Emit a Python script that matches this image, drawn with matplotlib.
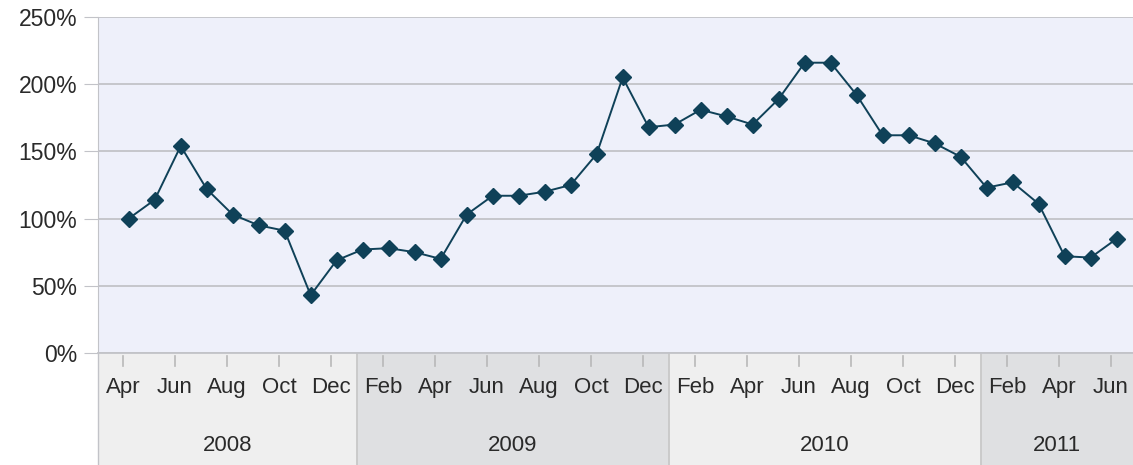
import numpy as np
import matplotlib.pyplot as plt
import matplotlib.transforms as mtrans
from matplotlib.ticker import FuncFormatter

plt.rcParams['font.family'] = ['Liberation Sans', 'DejaVu Sans']

# monthly values, Apr 2008 .. Jun 2011 (percent)
months = ['Apr', 'May', 'Jun', 'Jul', 'Aug', 'Sep', 'Oct', 'Nov', 'Dec',
          'Jan', 'Feb', 'Mar', 'Apr', 'May', 'Jun', 'Jul', 'Aug', 'Sep', 'Oct', 'Nov', 'Dec',
          'Jan', 'Feb', 'Mar', 'Apr', 'May', 'Jun', 'Jul', 'Aug', 'Sep', 'Oct', 'Nov', 'Dec',
          'Jan', 'Feb', 'Mar', 'Apr', 'May', 'Jun']
values = [100, 114, 154, 122, 103, 95, 91, 43, 69,
          77, 78, 75, 70, 103, 117, 117, 120, 125, 148, 205, 168,
          170, 181, 176, 170, 189, 216, 216, 192, 162, 162, 156, 146,
          123, 127, 111, 72, 71, 85]
years = ['2008', '2009', '2010', '2011']
year_start = [-3, 9, 21, 33]   # month index of January of each year
year_end = [9, 21, 33, 45]

bg = '#eef0fa'
grid_c = '#c2c3c8'
text_c = '#2a2a2a'
line_c = '#0f4158'
band_c = ['#efefef', '#dfe0e2', '#efefef', '#dfe0e2']

x0, x1 = -0.96, 38.85

fig = plt.figure(figsize=(11.33, 4.65), dpi=100)
ax = fig.add_axes([98 / 1133, 1 - 353 / 465, 1 - 98 / 1133, 336 / 465])
ax.set_facecolor(bg)

x = np.arange(len(values))
ax.plot(x + 0.22, values, color=line_c, lw=1.4, marker='D', markersize=8.5,
        markeredgecolor=line_c, markerfacecolor=line_c, zorder=3)

ax.set_xlim(x0, x1)
ax.set_ylim(0, 250)
ax.set_yticks(np.arange(0, 251, 50))
ax.yaxis.set_major_formatter(FuncFormatter(lambda v, p: f'{int(v)}%'))
ax.grid(axis='y', color=grid_c, lw=1.3)
ax.set_axisbelow(True)

for s in ['top', 'right']:
    ax.spines[s].set_visible(False)
ax.spines['left'].set_color(grid_c)
ax.spines['bottom'].set_color(grid_c)
ax.spines['bottom'].set_linewidth(1.3)
ax.tick_params(axis='y', length=10, color=grid_c, labelsize=16.5, labelcolor=text_c, pad=5)

# month ticks every two months
tick_pos = x[::2]
ax.set_xticks(tick_pos)
ax.set_xticklabels([])
ax.tick_params(axis='x', length=0)

# year bands below the plot
trans = mtrans.blended_transform_factory(ax.transData, ax.transAxes)
for yr, s, e, c in zip(years, year_start, year_end, band_c):
    left = max(s, x0)
    right = min(e, x1)
    ax.add_patch(plt.Rectangle((left, -0.335), right - left, 0.335, transform=trans,
                               facecolor=c, edgecolor='none', clip_on=False, zorder=0))
    ax.text((left + right) / 2, -0.275, yr, transform=trans, ha='center', va='center',
            fontsize=16, color=text_c)
    if s > x0:
        ax.plot([s, s], [-0.335, 0], transform=trans, color='#c8c8c8', lw=1.3, clip_on=False)
ax.plot([x0, x0], [-0.335, 0], transform=trans, color=grid_c, lw=1.0, clip_on=False)

for p in tick_pos:
    ax.plot([p, p], [-0.01, -0.04], transform=trans, color='#b8b8b8', lw=1.2, clip_on=False)
    ax.text(p, -0.103, months[p], transform=trans, ha='center', va='center',
            fontsize=16, color=text_c)

fig.savefig('out.png', dpi=100)
